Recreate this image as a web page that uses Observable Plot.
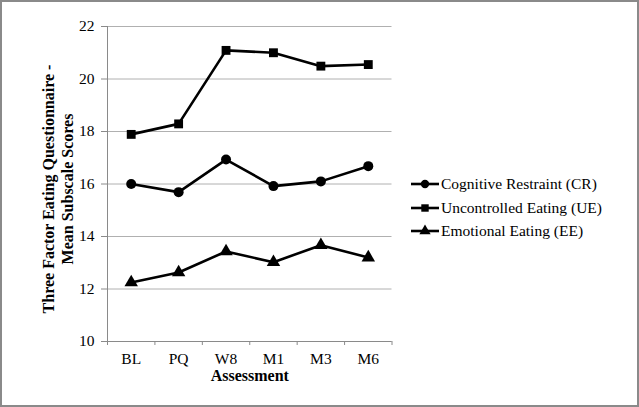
<!DOCTYPE html>
<html>
<head>
<meta charset="utf-8">
<script src="https://cdn.jsdelivr.net/npm/d3@7"></script>
<script src="https://cdn.jsdelivr.net/npm/@observablehq/plot@0.6"></script>
<style>
  html, body { margin: 0; padding: 0; background: #fff; }
  #wrap { position: relative; width: 639px; height: 407px; overflow: hidden; background: #fff; }
  #frame { position: absolute; left: 0; top: 0; width: 639px; height: 407px; box-sizing: border-box; border: 2px solid #8a8a8a; pointer-events: none; }
  #legend { position: absolute; left: 410px; top: 172px; font-family: "Liberation Serif", "Times New Roman", serif; font-size: 15.5px; color: #000; }
  #legend .row { display: flex; align-items: center; height: 23.8px; }
  #legend svg { margin-right: 1px; }
</style>
</head>
<body>
<div id="wrap"><div id="chart"></div><div id="legend"></div><div id="frame"></div></div>
<script>
const categories = ["BL", "PQ", "W8", "M1", "M3", "M6"];
const seriesNames = ["Cognitive Restraint (CR)", "Uncontrolled Eating (UE)", "Emotional Eating (EE)"];
const seriesSymbols = ["circle", "square", "triangle"];
const crValues = [16.0, 15.69, 16.93, 15.92, 16.1, 16.68];
const ueValues = [17.89, 18.29, 21.09, 21.0, 20.49, 20.55];
const eeValues = [12.25, 12.63, 13.43, 13.02, 13.67, 13.2];
const yTicks = [10, 12, 14, 16, 18, 20, 22];
const xLabel = "Assessment";
const yLabel = "Three Factor Eating Questionnaire -\nMean Subscale Scores";

const allValues = [crValues, ueValues, eeValues];
const data = [];
allValues.forEach((vals, s) => {
  vals.forEach((v, i) => data.push({series: seriesNames[s], sym: seriesSymbols[s], idx: i + 0.5, cat: categories[i], value: v}));
});
const boundaries = d3.range(categories.length + 1);
const centers = categories.map((c, i) => i + 0.5);

const chart = Plot.plot({
  width: 639,
  height: 407,
  marginLeft: 107,
  marginRight: 247.5,
  marginTop: 26,
  marginBottom: 66,
  style: {fontFamily: "'Liberation Serif', 'Times New Roman', serif", fontSize: "15px", color: "#000", background: "transparent"},
  x: {type: "linear", domain: [0, categories.length], axis: null},
  y: {domain: [10, 22], axis: null},
  symbol: {domain: seriesSymbols, range: seriesSymbols},
  marks: [
    Plot.gridY(yTicks, {stroke: "#b0b0b0", strokeOpacity: 1, strokeWidth: 1}),
    Plot.ruleX([0], {stroke: "#8a8a8a", strokeWidth: 1}),
    Plot.ruleY([10], {stroke: "#8a8a8a", strokeWidth: 1}),
    Plot.axisY({ticks: yTicks, tickSize: 6, tickPadding: 7, stroke: "#8a8a8a", tickFormat: d => String(d), label: null, fontSize: 15.5}),
    Plot.axisX({ticks: boundaries, tickSize: 4, stroke: "#8a8a8a", tickFormat: () => "", label: null}),
    Plot.axisX({ticks: centers, tickSize: 0, tickPadding: 11, tickFormat: d => categories[Math.round(d - 0.5)], label: null, fontSize: 15.5}),
    Plot.text([xLabel], {frameAnchor: "bottom", dy: 39, fontWeight: "bold", fontSize: 16}),
    Plot.text([yLabel], {frameAnchor: "left", textAnchor: "middle", rotate: -90, dx: -50, dy: 5, fontWeight: "bold", fontSize: 16, lineHeight: 1.15}),
    Plot.line(data, {x: "idx", y: "value", z: "series", stroke: "#000", strokeWidth: 2.6}),
    Plot.dot(data, {x: "idx", y: "value", symbol: "sym", fill: "#000", stroke: "none", r: 5})
  ]
});
document.getElementById("chart").appendChild(chart);

// Legend
const legend = document.getElementById("legend");
seriesNames.forEach((name, i) => {
  const row = document.createElement("div");
  row.className = "row";
  const sw = d3.create("svg").attr("width", 30).attr("height", 14);
  sw.append("line").attr("x1", 1).attr("x2", 29).attr("y1", 7).attr("y2", 7).attr("stroke", "#000").attr("stroke-width", 2.6);
  sw.append("path").attr("transform", "translate(15,7)").attr("d", d3.symbol(
    seriesSymbols[i] === "circle" ? d3.symbolCircle : seriesSymbols[i] === "square" ? d3.symbolSquare : d3.symbolTriangle, 55)()).attr("fill", "#000");
  row.appendChild(sw.node());
  const t = document.createElement("span");
  t.textContent = name;
  row.appendChild(t);
  legend.appendChild(row);
});
</script>
</body>
</html>
